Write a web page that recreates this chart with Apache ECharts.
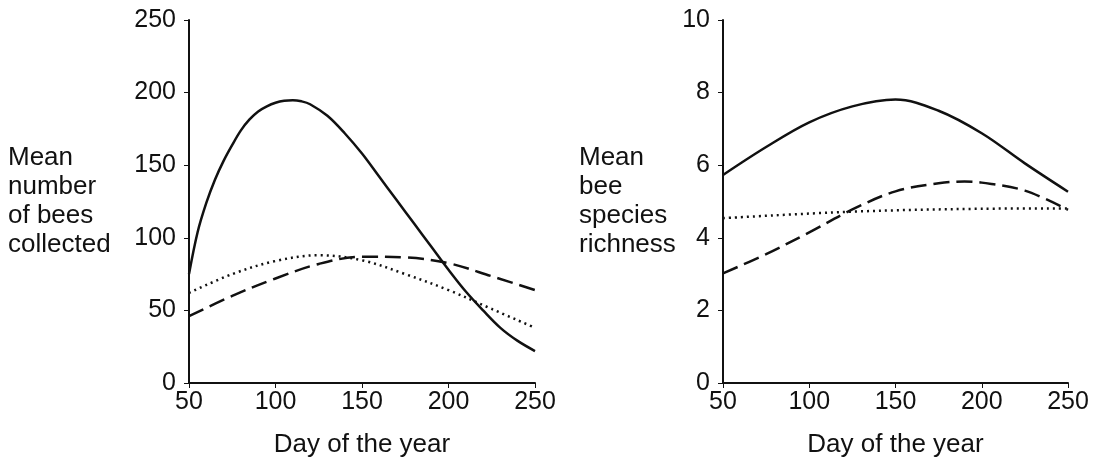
<!DOCTYPE html>
<html>
<head>
<meta charset="utf-8">
<script src="https://cdn.jsdelivr.net/npm/echarts@6/dist/echarts.min.js"></script>
<style>html,body{margin:0;padding:0;background:#fff}#c{width:1097px;height:463px}</style>
</head>
<body>
<div id="c"></div>
<script>
// Left panel: mean number of bees collected
const leftSolidDays = [50, 55, 60, 65, 70, 75, 80, 85, 90, 95, 100, 105, 110, 115, 120, 130, 140, 150, 160, 170, 180, 190, 200, 210, 220, 230, 240, 250];
const leftSolidVals = [75, 104, 124, 140, 153, 164, 174, 181.5, 187, 190.5, 193, 194.4, 194.8, 194, 192, 184, 172, 158, 142, 126, 110, 94, 78, 63, 50, 38, 29, 22];
const leftDashedDays = [50, 75, 100, 125, 150, 175, 200, 225, 250];
const leftDashedVals = [46, 60, 72, 82, 87, 86.5, 82.5, 73.5, 64];
const leftDottedDays = [50, 75, 100, 125, 150, 175, 200, 225, 250];
const leftDottedVals = [62, 75, 84, 88, 84.5, 75, 64, 51, 38];
// Right panel: mean bee species richness
const rightSolidDays = [50, 75, 100, 125, 150, 175, 200, 225, 250];
const rightSolidVals = [5.73, 6.5, 7.18, 7.62, 7.81, 7.5, 6.88, 6.05, 5.27];
const rightDashedDays = [50, 75, 100, 125, 150, 175, 190, 200, 225, 250];
const rightDashedVals = [3.02, 3.55, 4.15, 4.78, 5.28, 5.5, 5.55, 5.52, 5.3, 4.77];
const rightDottedDays = [50, 125, 200, 250];
const rightDottedVals = [4.54, 4.72, 4.8, 4.81];
const xTicks = [50, 100, 150, 200, 250];
const xTitle = 'Day of the year';
const leftYTitle = 'Mean\nnumber\nof bees\ncollected';
const rightYTitle = 'Mean\nbee\nspecies\nrichness';

const pair = (d, v) => d.map((x, i) => [x, v[i]]);
const ink = '#111';
const font = 'Liberation Sans, Arial, sans-serif';

function xAxis(gi) {
  return {
    type: 'value', gridIndex: gi, min: xTicks[0], max: xTicks[xTicks.length - 1], interval: xTicks[1] - xTicks[0],
    name: xTitle, nameLocation: 'middle', nameGap: 49,
    nameTextStyle: { color: ink, fontSize: 26, fontFamily: font },
    axisLine: { lineStyle: { color: ink, width: 2 } },
    axisTick: { show: true, length: 5, lineStyle: { color: ink, width: 1 } },
    axisLabel: { color: ink, fontSize: 25, fontFamily: font, margin: 7 },
    splitLine: { show: false }
  };
}
function yAxis(gi, max, interval) {
  return {
    type: 'value', gridIndex: gi, min: 0, max: max, interval: interval,
    axisLine: { show: true, lineStyle: { color: ink, width: 2 } },
    axisTick: { show: true, length: 5, lineStyle: { color: ink, width: 1 } },
    axisLabel: { color: ink, fontSize: 25, fontFamily: font, margin: 13 },
    splitLine: { show: false }
  };
}
function line(gi, data, type) {
  return {
    type: 'line', xAxisIndex: gi, yAxisIndex: gi, data: data, smooth: 0.35,
    symbol: 'none', silent: true,
    lineStyle: { color: ink, width: 2.5, type: type }
  };
}

const chart = echarts.init(document.getElementById('c'), null, { renderer: 'canvas' });
chart.setOption({
  backgroundColor: '#fff',
  animation: false,
  grid: [
    { left: 189, right: 562, top: 20, bottom: 80 },
    { left: 723, right: 29, top: 20, bottom: 80 }
  ],
  xAxis: [xAxis(0), xAxis(1)],
  yAxis: [yAxis(0, 250, 50), yAxis(1, 10, 2)],
  graphic: [
    { type: 'text', left: 8, top: 143, style: { text: leftYTitle, fill: ink, font: '26px ' + font, lineHeight: 29 } },
    { type: 'text', left: 579, top: 143, style: { text: rightYTitle, fill: ink, font: '26px ' + font, lineHeight: 29 } }
  ],
  series: [
    line(0, pair(leftSolidDays, leftSolidVals), 'solid'),
    line(0, pair(leftDashedDays, leftDashedVals), [16, 7]),
    line(0, pair(leftDottedDays, leftDottedVals), [2, 4]),
    line(1, pair(rightSolidDays, rightSolidVals), 'solid'),
    line(1, pair(rightDashedDays, rightDashedVals), [16, 7]),
    line(1, pair(rightDottedDays, rightDottedVals), [2, 4])
  ]
});
</script>
</body>
</html>
